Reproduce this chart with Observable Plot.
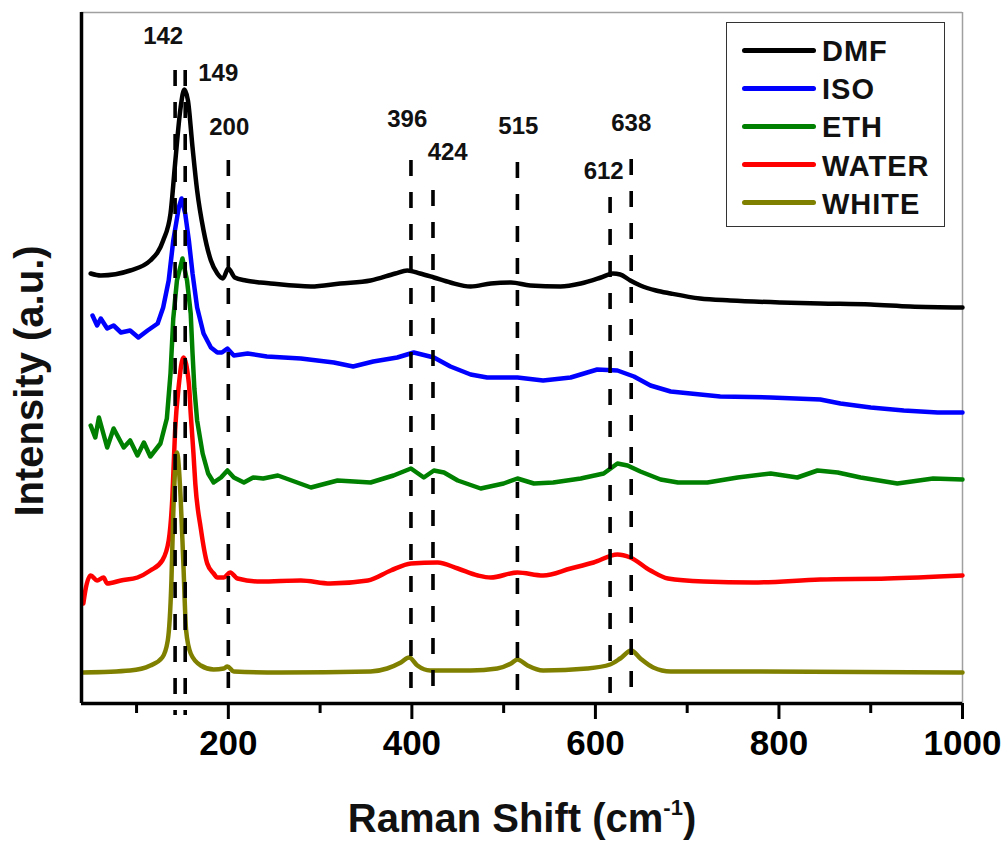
<!DOCTYPE html>
<html>
<head>
<meta charset="utf-8">
<script src="https://cdn.jsdelivr.net/npm/d3@7"></script>
<script src="https://cdn.jsdelivr.net/npm/@observablehq/plot@0.6"></script>
<style>
  body { margin: 0; background: #fff; font-family: "Liberation Sans", Arial, sans-serif; }
  #wrap { position: relative; width: 1005px; height: 844px; }
  .legend { position: absolute; left: 726px; top: 22px; width: 219px; height: 205px; box-sizing: border-box; border: 1.5px solid #333; background: #fff; }
  .sw { position: absolute; height: 5px; border-radius: 3px; }
  .lt { position: absolute; font: bold 29px "Liberation Sans", Arial, sans-serif; letter-spacing: 1px; line-height: 1; color: #111; transform: translateY(-50%); white-space: nowrap; }
</style>
</head>
<body>
<div id="wrap"></div>
<script>
// ---- Data ----
const seriesNames = ["DMF", "ISO", "ETH", "WATER", "WHITE"];
const seriesColors = ["#000000", "#0000ff", "#008000", "#ff0000", "#808000"];
const seriesCurves = ["monotone-x", "linear", "linear", "monotone-x", "monotone-x"];

const wDMF = [50,61,93,115,129,137,142,148,152,156,161,166,173,181,188,194,200,207,219,235,246,290,322,355,382,395,409,424,442,464,486,508,529,562,584,606,619,627,638,649,666,682,714,747,802,845,900,943,1000];
const iDMF = [430,428,433,443,463,490,540,596,614,603,556,513,473,443,430,425,435,426,423,421,420,417,420,423,430,433,430,426,421,417,420,421,418,417,420,426,430,429,423,418,413,410,405,403,401,400,399,397,396];

const wISO = [52,57,61,68,75,83,93,102,112,123,129,135,140,146,149,153,157,161,166,173,181,188,193,199,206,221,242,279,315,336,358,384,402,424,442,464,482,515,543,573,602,624,642,660,682,736,791,845,867,900,936,973,1000];
const iISO = [388,378,385,375,378,371,373,366,373,380,396,423,463,496,505,490,463,430,396,370,356,351,351,355,348,350,347,345,341,337,342,346,351,346,337,329,326,326,323,326,334,333,327,318,312,307,306,304,300,296,293,291,291];

const wETH = [50,55,59,68,75,86,93,101,108,115,126,133,137,140,144,150,155,159,161,163,166,172,178,184,192,199,206,217,227,238,254,290,319,355,380,399,413,424,435,450,475,500,515,533,554,584,609,624,635,649,671,690,722,755,791,820,842,864,889,929,968,1000];
const iETH = [278,266,286,256,275,256,263,248,261,247,260,285,330,385,423,445,423,390,350,315,283,250,230,221,226,233,226,221,226,225,228,216,223,221,228,235,226,233,231,223,215,220,225,220,221,225,230,240,238,232,224,221,221,226,230,226,233,231,226,220,225,224];

const wWAT = [42,44,50,57,64,68,83,101,115,128,135,139,142,146,151,157,159,162,164,170,177,184,188,195,202,210,235,279,311,352,377,399,428,450,472,486,515,543,573,598,624,638,660,679,718,772,845,918,1000];
const iWAT = [100,112,128,123,126,120,123,126,133,143,163,206,273,318,346,320,290,250,220,175,140,130,126,126,131,125,122,123,120,123,133,140,141,135,128,126,131,128,135,141,149,146,133,125,122,121,124,125,128];

const wWHI = [42,93,115,128,134,138,140,144,148,151,154,159,170,184,195,199,206,257,355,373,388,397,406,420,464,493,508,515,526,543,591,616,627,639,649,663,682,772,1000];
const iWHI = [31,33,38,46,63,123,190,251,206,140,73,50,38,34,35,37,32,31,32,35,41,46,38,33,33,35,40,44,38,33,35,39,45,53,45,36,32,32,31];

// peak markers (dashed lines) and their labels
const peakLabels = ["142","149","200","396","424","515","612","638"];
const peakPos    = [142, 153, 200, 399, 423, 515, 616, 639];
const peakTop    = [633, 633, 543, 543, 513, 541, 506, 544];
const peakBottom = [-12, -12, 0, 0, 0, 0, 0, 0];
const labelX     = [129, 189, 201, 395, 439, 516, 609, 639];
const labelY     = [667, 630, 576, 584, 551, 577, 532, 580];

const majorTicks = [200, 400, 600, 800, 1000];
const minorTicks = [100, 300, 500, 700, 900];
const xDomain = [40, 1000];
const yDomain = [0, 691];
const xTitleMain = "Raman Shift (cm";
const xTitleSup = "-1";
const xTitleEnd = ")";
const yTitle = "Intensity (a.u.)";

// ---- Build tables ----
const toRows = (name, ws, is) => ws.map((w, k) => ({name, w, v: is[k]}));
const allSeries = [
  toRows("DMF", wDMF, iDMF),
  toRows("ISO", wISO, iISO),
  toRows("ETH", wETH, iETH),
  toRows("WATER", wWAT, iWAT),
  toRows("WHITE", wWHI, iWHI)
];
const peaks = peakLabels.map((label, k) => ({
  label, pos: peakPos[k], top: peakTop[k], bottom: peakBottom[k], lx: labelX[k], ly: labelY[k]
}));

const lineMarks = allSeries.map((rows, k) =>
  Plot.line(rows, {x: "w", y: "v", stroke: seriesColors[k], strokeWidth: 4.5,
    curve: seriesCurves[k], strokeLinejoin: "round", strokeLinecap: "round"})
);

const chart = Plot.plot({
  width: 1005,
  height: 844,
  marginLeft: 81,
  marginRight: 43,
  marginTop: 12,
  marginBottom: 141,
  style: {background: "white", fontFamily: "'Liberation Sans', Arial, sans-serif", color: "black", overflow: "visible"},
  x: {domain: xDomain},
  y: {domain: yDomain, axis: null},
  marks: [
    Plot.ruleY([yDomain[1]], {stroke: "#a0a0a0", strokeWidth: 1.5}),
    Plot.ruleX([xDomain[1]], {stroke: "#a0a0a0", strokeWidth: 1.5}),
    ...lineMarks,
    Plot.ruleX(peaks, {x: "pos", y1: "top", y2: "bottom", stroke: "black", strokeWidth: 3.6, strokeDasharray: "16,16"}),
    Plot.text(peaks, {x: "lx", y: "ly", text: "label", fontSize: 24, fontWeight: "bold", fill: "#111"}),
    Plot.axisX({ticks: majorTicks, tickSize: 16, tickPadding: 11, tickFormat: "d", fontSize: 35, fontWeight: "bold", strokeWidth: 3, label: null}),
    Plot.axisX({ticks: minorTicks, tickSize: 10, tickFormat: () => "", strokeWidth: 3, label: null}),
    Plot.ruleY([yDomain[0]], {stroke: "black", strokeWidth: 3.5}),
    Plot.ruleX([xDomain[0]], {stroke: "black", strokeWidth: 3.5}),
    Plot.text([yTitle], {text: d => d, frameAnchor: "left", textAnchor: "middle", rotate: -90, dx: -51, dy: 23, fontSize: 40, fontWeight: "bold", fill: "#111"}),
    Plot.text([xTitleMain], {text: d => d, frameAnchor: "bottom", textAnchor: "middle", dy: 128, fontSize: 40, fontWeight: "bold", fill: "#111", className: "xtitle"})
  ]
});

// superscript in x title
const xt = chart.querySelector(".xtitle text");
if (xt) {
  const NS = "http://www.w3.org/2000/svg";
  xt.textContent = "";
  const t1 = document.createElementNS(NS, "tspan"); t1.textContent = xTitleMain;
  const t2 = document.createElementNS(NS, "tspan"); t2.textContent = xTitleSup;
  t2.setAttribute("dy", "-17"); t2.setAttribute("font-size", "22");
  const t3 = document.createElementNS(NS, "tspan"); t3.textContent = xTitleEnd;
  t3.setAttribute("dy", "17");
  xt.append(t1, t2, t3);
}

const wrap = document.getElementById("wrap");
wrap.appendChild(chart);

// legend overlay
const legend = document.createElement("div");
legend.className = "legend";
wrap.appendChild(legend);
seriesNames.forEach((name, k) => {
  const cy = 49 + k * 38.2;
  const sw = document.createElement("div");
  sw.className = "sw";
  sw.style.left = (741 - 726) + "px";
  sw.style.width = "74px";
  sw.style.top = (cy - 22 - 2.5) + "px";
  sw.style.background = seriesColors[k];
  legend.appendChild(sw);
  const lt = document.createElement("div");
  lt.className = "lt";
  lt.style.left = (821 - 726) + "px";
  lt.style.top = (cy - 22 + 1) + "px";
  lt.textContent = name;
  legend.appendChild(lt);
});
</script>
</body>
</html>
